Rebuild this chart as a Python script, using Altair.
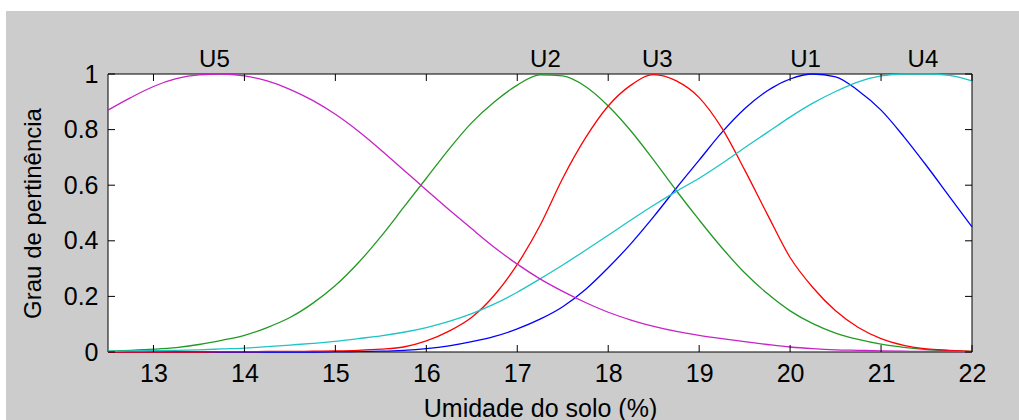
import altair as alt
import pandas as pd

# Soil-moisture grid (%) and membership degree of each fuzzy set
umidade = [12.5, 12.75, 13.0, 13.25, 13.5, 13.75, 14.0, 14.25, 14.5, 14.75,
           15.0, 15.25, 15.5, 15.75, 16.0, 16.25, 16.5, 16.75, 17.0, 17.25,
           17.5, 17.75, 18.0, 18.25, 18.5, 18.75, 19.0, 19.25, 19.5, 19.75,
           20.0, 20.25, 20.5, 20.75, 21.0, 21.25, 21.5, 21.75, 22.0]

u1 = [0.0, 0.0, 0.0, 0.0, 0.0, 0.0, 0.0, 0.0, 0.0, 0.0,
      0.001, 0.002, 0.003, 0.006, 0.012, 0.022, 0.037, 0.056, 0.083, 0.118,
      0.163, 0.225, 0.303, 0.39, 0.487, 0.59, 0.69, 0.79, 0.875, 0.94,
      0.982, 1.0, 0.99, 0.94, 0.87, 0.775, 0.67, 0.56, 0.45]

u2 = [0.003, 0.006, 0.010, 0.016, 0.027, 0.042, 0.060, 0.088, 0.124, 0.175,
      0.239, 0.32, 0.415, 0.52, 0.625, 0.73, 0.825, 0.90, 0.96, 0.997,
      0.993, 0.955, 0.885, 0.795, 0.69, 0.58, 0.475, 0.375, 0.285, 0.21,
      0.148, 0.102, 0.068, 0.045, 0.028, 0.017, 0.009, 0.005, 0.002]

u3 = [0.0, 0.0, 0.0, 0.0, 0.0, 0.001, 0.001, 0.002, 0.002, 0.003,
      0.004, 0.006, 0.010, 0.018, 0.040, 0.075, 0.125, 0.205, 0.315, 0.455,
      0.625, 0.77, 0.885, 0.96, 0.998, 0.975, 0.915, 0.805, 0.655, 0.495,
      0.34, 0.232, 0.148, 0.088, 0.048, 0.024, 0.011, 0.006, 0.002]

u4 = [0.003, 0.004, 0.005, 0.006, 0.008, 0.011, 0.014, 0.019, 0.025, 0.031,
      0.038, 0.048, 0.058, 0.071, 0.088, 0.11, 0.138, 0.173, 0.215, 0.263,
      0.313, 0.366, 0.42, 0.475, 0.528, 0.578, 0.625, 0.678, 0.735, 0.79,
      0.845, 0.895, 0.937, 0.972, 0.993, 1.0, 1.0, 0.995, 0.975]

u5 = [0.87, 0.915, 0.955, 0.983, 0.997, 1.0, 0.993, 0.975, 0.945, 0.905,
      0.855, 0.795, 0.727, 0.655, 0.583, 0.512, 0.443, 0.376, 0.316, 0.263,
      0.218, 0.178, 0.143, 0.115, 0.092, 0.074, 0.060, 0.048, 0.037, 0.027,
      0.018, 0.012, 0.008, 0.006, 0.004, 0.003, 0.002, 0.002, 0.001]

conjuntos = ["U1", "U2", "U3", "U4", "U5"]
cores = ["#0000ff", "#229922", "#ff0000", "#1fc4c4", "#c822c8"]
series = [u1, u2, u3, u4, u5]

# Peak positions used for the set names above the plot
centros = [20.17, 17.31, 18.54, 21.46, 13.67]

x_ticks = [13, 14, 15, 16, 17, 18, 19, 20, 21, 22]
y_ticks = [0, 0.2, 0.4, 0.6, 0.8, 1]

rows = []
for nome, vals in zip(conjuntos, series):
    for xv, yv in zip(umidade, vals):
        rows.append({"umidade": xv, "grau": yv, "conjunto": nome})
df = pd.DataFrame(rows)

W, H = 864, 278
FONT = "Liberation Sans"

x_scale = alt.Scale(domain=[12.5, 22], nice=False, zero=False)
y_scale = alt.Scale(domain=[0, 1], nice=False, zero=False)

x_axis = alt.Axis(values=x_ticks, format="d", ticks=False, tickSize=0, domain=False,
                  grid=False, labelPadding=9, labelFontSize=25, labelFont=FONT,
                  labelColor="black", title="Umidade do solo (%)", titleFont=FONT,
                  titleFontSize=25, titleFontWeight="normal", titleColor="black",
                  titleBaseline="top", titleY=44, titleX=W / 2, titleAlign="center",
                  zindex=1, labelFlush=False, labelOverlap=False)
y_axis = alt.Axis(values=y_ticks, format="~g", ticks=False, tickSize=0, domain=False,
                  grid=False, labelPadding=10, labelFontSize=25, labelFont=FONT,
                  labelColor="black", title="Grau de pertinência", titleFont=FONT,
                  titleFontSize=24, titleFontWeight="normal", titleColor="black",
                  titleAngle=270, titleX=-75, titleY=H / 2, titleAlign="center",
                  titleBaseline="middle", zindex=1, labelFlush=False,
                  labelOverlap=False)

one = alt.Data(values=[{"k": 1}])

# Gray figure frame and white axes box
frame = alt.Chart(one).mark_rect(color="#cccccc").encode(
    x=alt.value(-102), x2=alt.value(W + 47), y=alt.value(-63), y2=alt.value(H + 68)
)
box = alt.Chart(one).mark_rect(fill="white", stroke="black", strokeWidth=1).encode(
    x=alt.value(0), x2=alt.value(W), y=alt.value(0), y2=alt.value(H)
)

lines = alt.Chart(df).mark_line(strokeWidth=1.3, interpolate="monotone").encode(
    x=alt.X("umidade:Q", scale=x_scale, axis=x_axis),
    y=alt.Y("grau:Q", scale=y_scale, axis=y_axis),
    color=alt.Color("conjunto:N", scale=alt.Scale(domain=conjuntos, range=cores),
                    legend=None),
    order=alt.Order("umidade:Q"),
)

xt = pd.DataFrame({"umidade": x_ticks})
yt = pd.DataFrame({"grau": y_ticks})
TICK = 7

ticks_bottom = alt.Chart(xt).mark_rule(color="black", strokeWidth=1).encode(
    x=alt.X("umidade:Q", scale=x_scale, axis=x_axis),
    y=alt.value(H), y2=alt.value(H - TICK),
)
ticks_top = alt.Chart(xt).mark_rule(color="black", strokeWidth=1).encode(
    x=alt.X("umidade:Q", scale=x_scale, axis=x_axis),
    y=alt.value(0), y2=alt.value(TICK),
)
ticks_left = alt.Chart(yt).mark_rule(color="black", strokeWidth=1).encode(
    y=alt.Y("grau:Q", scale=y_scale, axis=y_axis),
    x=alt.value(0), x2=alt.value(TICK),
)
ticks_right = alt.Chart(yt).mark_rule(color="black", strokeWidth=1).encode(
    y=alt.Y("grau:Q", scale=y_scale, axis=y_axis),
    x=alt.value(W), x2=alt.value(W - TICK),
)

nomes = pd.DataFrame({"umidade": centros, "conjunto": conjuntos})
labels = alt.Chart(nomes).mark_text(
    font=FONT, fontSize=24, color="black", baseline="alphabetic", align="center"
).encode(
    x=alt.X("umidade:Q", scale=x_scale, axis=x_axis),
    y=alt.value(-7),
    text="conjunto:N",
)

chart = alt.layer(
    frame, box, lines, ticks_bottom, ticks_top, ticks_left, ticks_right, labels
).properties(
    width=W, height=H,
    autosize=alt.AutoSizeParams(type="none"),
    padding={"left": 108, "top": 74, "right": 47, "bottom": 68},
    background="white",
).configure_view(stroke=None)

chart.save("out.html", embed_options={"renderer": "svg", "actions": False})
